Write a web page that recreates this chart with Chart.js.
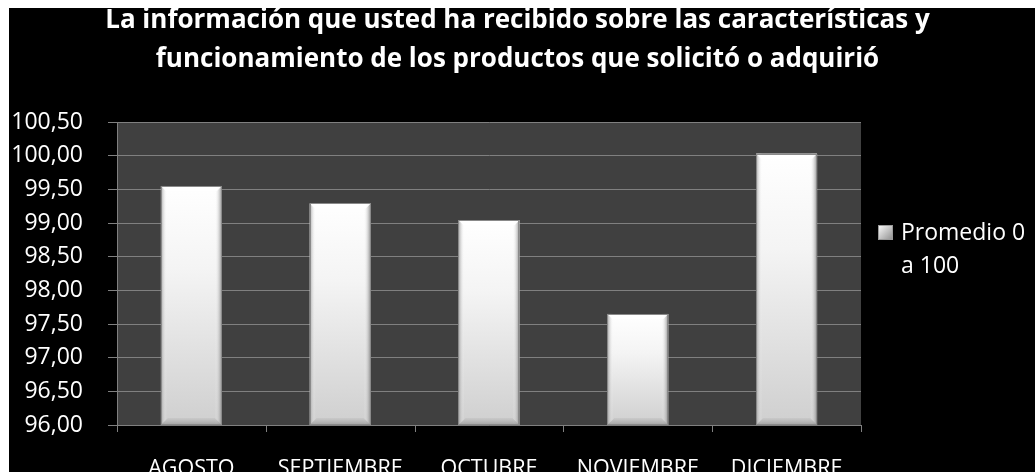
<!DOCTYPE html>
<html><head><meta charset="utf-8">
<script src="https://cdn.jsdelivr.net/npm/chart.js@4.4.1/dist/chart.umd.min.js"></script>
<style>html,body{margin:0;padding:0;background:#fff;overflow:hidden}#wrap{width:1035px;height:472px}</style>
</head><body><div id="wrap"><canvas id="c" width="1035" height="472"></canvas></div>
<script>
const titleLines = ["La información que usted ha recibido sobre las características y", "funcionamiento de los productos que solicitó o adquirió"];
const categories = ["AGOSTO", "SEPTIEMBRE", "OCTUBRE", "NOVIEMBRE", "DICIEMBRE"];
const seriesName = "Promedio 0 a 100";
const legendLines = ["Promedio 0", "a 100"];
const values = [99.55, 99.29, 99.04, 97.65, 100.03];
const yMin = 96, yMax = 100.5, yStep = 0.5;

const FONT = "'Open Sans'";

const bgPlugin = {
  id: 'bg',
  beforeDraw(chart) {
    const c = chart.ctx, a = chart.chartArea;
    c.save();
    c.fillStyle = '#ffffff';
    c.fillRect(0, 0, chart.width, chart.height);
    c.fillStyle = '#000000';
    c.fillRect(9, 8, chart.width - 9, chart.height - 8);
    c.fillStyle = '#404040';
    c.fillRect(a.left, a.top, a.right - a.left, a.bottom - a.top);
    c.restore();
  }
};

const xTickPlugin = {
  id: 'xTicks',
  afterDraw(chart) {
    const c = chart.ctx, a = chart.chartArea, xs = chart.scales.x;
    c.save();
    c.strokeStyle = '#808080'; c.lineWidth = 1;
    for (let i = 0; i <= categories.length; i++) {
      const px = Math.round(xs.getPixelForValue(i - 0.5)) + 0.5;
      c.beginPath(); c.moveTo(px, a.bottom); c.lineTo(px, a.bottom + 7); c.stroke();
    }
    c.restore();
  }
};

const bevelPlugin = {
  id: 'bevel',
  afterDatasetsDraw(chart) {
    const c = chart.ctx, a = chart.chartArea;
    const meta = chart.getDatasetMeta(0);
    c.save();
    meta.data.forEach(el => {
      const p = el.getProps(['x', 'y', 'base', 'width'], true);
      const l = p.x - p.width / 2, r = p.x + p.width / 2;
      const t = Math.max(p.y, a.top), b = Math.min(p.base, a.bottom);
      let g = c.createLinearGradient(l, 0, l + 6, 0);
      g.addColorStop(0, 'rgba(150,150,150,0.85)');
      g.addColorStop(1, 'rgba(255,255,255,0)');
      c.fillStyle = g; c.fillRect(l, t, 6, b - t);
      g = c.createLinearGradient(r - 7, 0, r, 0);
      g.addColorStop(0, 'rgba(255,255,255,0)');
      g.addColorStop(1, 'rgba(130,130,130,0.9)');
      c.fillStyle = g; c.fillRect(r - 7, t, 7, b - t);
      g = c.createLinearGradient(0, b - 8, 0, b);
      g.addColorStop(0, 'rgba(200,200,200,0.5)');
      g.addColorStop(1, 'rgba(150,150,150,0.8)');
      c.fillStyle = g;
      c.beginPath(); c.moveTo(l, b); c.lineTo(l + 7, b - 7); c.lineTo(r - 7, b - 7); c.lineTo(r, b); c.closePath(); c.fill();
      c.fillStyle = 'rgba(255,255,255,0.9)';
      c.beginPath(); c.moveTo(l, t); c.lineTo(r, t); c.lineTo(r - 5, t + 5); c.lineTo(l + 5, t + 5); c.closePath(); c.fill();
      c.strokeStyle = '#8a8a8a'; c.lineWidth = 1;
      c.strokeRect(Math.round(l) + 0.5, Math.round(t) + 0.5, Math.round(r - l) - 1, Math.round(b - t) - 1);
    });
    c.restore();
  }
};

const legendPlugin = {
  id: 'sideLegend',
  afterDraw(chart) {
    const c = chart.ctx, a = chart.chartArea;
    const x0 = a.right + 17, y0 = 225;
    c.save();
    const g = c.createLinearGradient(x0, y0, x0 + 15, y0 + 15);
    g.addColorStop(0, '#ffffff'); g.addColorStop(1, '#8c8c8c');
    c.fillStyle = g; c.fillRect(x0, y0, 15, 15);
    c.strokeStyle = '#9a9a9a'; c.strokeRect(x0 + 0.5, y0 + 0.5, 14, 14);
    c.fillStyle = '#ffffff';
    c.font = '23px ' + FONT;
    c.textBaseline = 'middle';
    c.textAlign = 'left';
    legendLines.forEach((t, i) => c.fillText(t, x0 + 23, y0 + 8 + i * 33));
    c.restore();
  }
};

new Chart(document.getElementById('c'), {
  type: 'bar',
  data: {
    labels: categories,
    datasets: [{
      label: seriesName,
      data: values,
      backgroundColor: (ctx) => {
        const ch = ctx.chart, a = ch.chartArea;
        if (!a || ctx.raw === undefined) return '#eeeeee';
        const top = ch.scales.y.getPixelForValue(ctx.raw);
        const g = ch.ctx.createLinearGradient(0, top, 0, a.bottom);
        g.addColorStop(0, '#ffffff');
        g.addColorStop(0.35, '#f4f4f4');
        g.addColorStop(1, '#cfcfcf');
        return g;
      },
      borderWidth: 0,
      categoryPercentage: 1,
      barPercentage: 0.41
    }]
  },
  options: {
    responsive: false,
    animation: false,
    devicePixelRatio: 1,
    layout: { padding: { left: 0, right: 0, top: 0, bottom: 0 } },
    plugins: {
      legend: { display: false },
      tooltip: { enabled: false },
      title: {
        display: true,
        text: titleLines,
        color: '#ffffff',
        font: { family: FONT, size: 26, weight: 'bold', lineHeight: 1.5 },
        padding: { top: 1, bottom: 43 }
      }
    },
    scales: {
      x: {
        afterFit: s => { s.height = 47; },
        grid: { display: false },
        border: { color: '#808080' },
        ticks: { color: '#ffffff', font: { family: FONT, size: 21.5 }, padding: 23, maxRotation: 0 }
      },
      y: {
        min: yMin, max: yMax,
        afterFit: s => { s.width = 117; },
        grid: { color: '#808080', tickLength: 9 },
        border: { color: '#808080' },
        ticks: {
          stepSize: yStep,
          color: '#ffffff',
          font: { family: FONT, size: 23 },
          padding: 25,
          callback: v => Number(v).toFixed(2).replace('.', ',')
        }
      },
      yR: {
        type: 'linear',
        position: 'right',
        afterFit: s => { s.width = 174; },
        grid: { drawOnChartArea: false, drawTicks: false },
        border: { display: false },
        ticks: { display: false }
      }
    }
  },
  plugins: [bgPlugin, bevelPlugin, xTickPlugin, legendPlugin]
});
</script>
</body></html>
